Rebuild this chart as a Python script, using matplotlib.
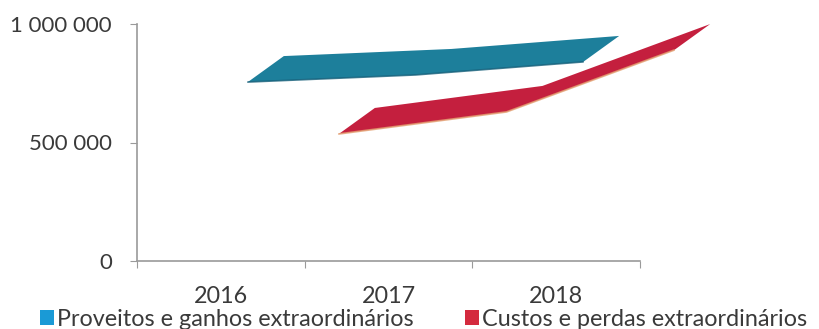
import matplotlib
matplotlib.use("Agg")
import matplotlib.pyplot as plt
from matplotlib.transforms import ScaledTranslation
from matplotlib.patches import Polygon, Patch
from matplotlib.lines import Line2D
import numpy as np

plt.rcParams['font.family'] = ['Lato', 'DejaVu Sans']

years = ["2016", "2017", "2018"]
proveitos = [755000, 785000, 840000]
custos = [536000, 629000, 890000]
series_names = ["Proveitos e ganhos extraordinários", "Custos e perdas extraordinários"]
ytick_vals = [0, 500000, 1000000]
ytick_labels = ["0", "500 000", "1 000 000"]

W, H, DPI = 819, 329, 100
fig = plt.figure(figsize=(W / DPI, H / DPI), dpi=DPI)
ax = fig.add_axes([137 / W, (H - 261) / H, (640 - 137) / W, (261 - 24) / H])
ax.set_xlim(-0.5, 2.5)
ax.set_ylim(0, 1000000)

for s in ['top', 'right']:
    ax.spines[s].set_visible(False)
for s in ['left', 'bottom']:
    ax.spines[s].set_color('#9a9a9a')
    ax.spines[s].set_linewidth(1.2)

ax.set_yticks(ytick_vals)
ax.set_yticklabels(ytick_labels)
ax.tick_params(axis='y', length=5, color='#9a9a9a', pad=13, labelsize=16, labelcolor='#3a3a3a')
x = np.arange(len(years))
ax.set_xticks(np.arange(-0.5, 2.6, 1.0))
ax.set_xticklabels([])
ax.tick_params(axis='x', which='major', length=5, color='#9a9a9a', direction='out')
ax.set_xticks(x, minor=True)
ax.set_xticklabels(years, minor=True)
ax.tick_params(axis='x', which='minor', length=0, pad=18, labelsize=16.8, labelcolor='#3a3a3a')

depth = (36, 26)  # pixel depth of ribbon


def ribbon(values, shift_px, face, edge, edge_lw):
    front = ax.transData + ScaledTranslation(shift_px / DPI, 0, fig.dpi_scale_trans)
    back = ax.transData + ScaledTranslation((shift_px + depth[0]) / DPI, depth[1] / DPI, fig.dpi_scale_trans)
    pts_front = [front.transform((xi, v)) for xi, v in zip(x, values)]
    pts_back = [back.transform((xi, v)) for xi, v in zip(x, values)]
    poly_pts = pts_front + pts_back[::-1]
    poly = Polygon(poly_pts, closed=True, transform=None, facecolor=face,
                   edgecolor='none', clip_on=False, zorder=3)
    fig.add_artist(poly)
    fx = [p[0] for p in pts_front]
    fy = [p[1] for p in pts_front]
    ln = Line2D(fx, fy, transform=None, color=edge, lw=edge_lw, zorder=4,
                solid_capstyle='round', alpha=0.8)
    fig.add_artist(ln)


ribbon(custos, 118, '#c41f3e', '#e3a070', 1.3)
ribbon(proveitos, 27, '#1d7f9b', '#17607a', 1.2)

handles = [Patch(facecolor='#1a9ad6', edgecolor='none'),
           Patch(facecolor='#d42a3e', edgecolor='none')]
fig.legend(handles, series_names, loc='lower left', bbox_to_anchor=(26 / W, -0.045),
           ncol=2, frameon=False, fontsize=16.8, handlelength=0.6, handleheight=0.6,
           handletextpad=0.12, columnspacing=2.2, labelcolor='#3a3a3a', borderpad=0.1)

fig.savefig("out.png", dpi=DPI)
